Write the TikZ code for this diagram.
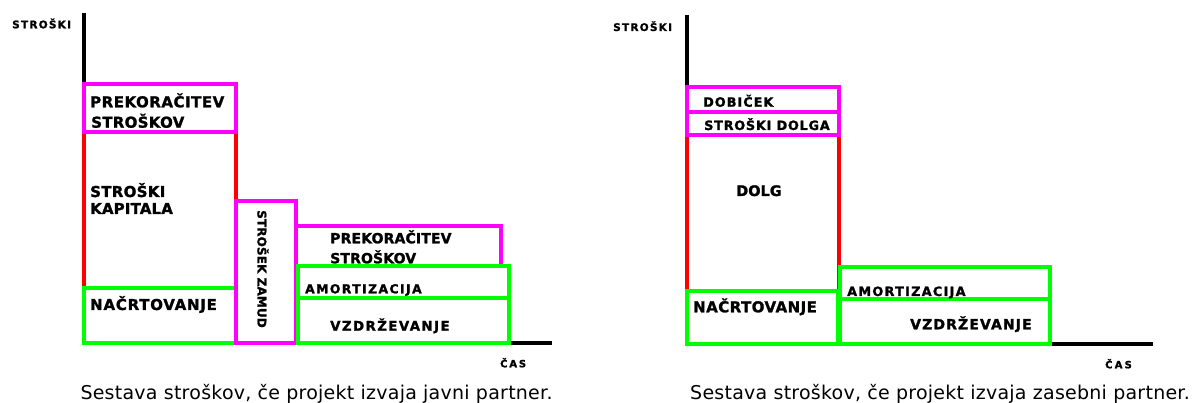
\documentclass[tikz,border=0pt]{standalone}
\usepackage{fontspec}
\setmainfont{DejaVu Sans}
\definecolor{cmag}{RGB}{255,0,255}
\definecolor{cred}{RGB}{255,0,0}
\definecolor{cgreen}{RGB}{0,255,0}
\tikzset{
  bar/.style={line width=4pt, line join=miter},
  axisline/.style={line width=3.5pt, black},
  lbl/.style 2 args={font=\bfseries\fontsize{#1pt}{#1pt}\selectfont\addfontfeatures{LetterSpace=#2,FakeBold=1.5},
    anchor=base west, inner sep=0pt},
  caption/.style={font=\fontsize{19pt}{19pt}\selectfont\addfontfeatures{LetterSpace=1.3},
    anchor=base, inner sep=0pt},
}
\begin{document}
\begin{tikzpicture}[x=1pt,y=-1pt]
\useasboundingbox (0,0) rectangle (1195,403);

% ---------- public partner ----------
\draw[axisline] (84,13) -- (84,343) -- (552,343);
\draw[bar, cred] (84,132) rectangle (236,288);
\draw[bar, cmag] (84,84) rectangle (236,132);
\draw[bar, cgreen] (84,288) rectangle (236,343);
\draw[bar, cmag] (236,201) rectangle (296,343);
\draw[bar, cmag] (296,226) rectangle (501,266);
\draw[bar, cgreen] (298,266) rectangle (509,343);
\draw[bar, cgreen] (298,298) -- (509,298);

\node[lbl={10.5}{12}] (ylA) at (12,28.3) {STROŠKI};
\node[lbl={15}{3.5}] (prekA1) at (90,107.3) {PREKORAČITEV};
\node[lbl={15}{2}] (prekA2) at (91,127.7) {STROŠKOV};
\node[lbl={15}{2}] (kapA1) at (90,197) {STROŠKI};
\node[lbl={15}{1}] (kapA2) at (90,214) {KAPITALA};
\node[lbl={15}{5}] (nacA) at (90,310) {NAČRTOVANJE};
\node[font=\bfseries\fontsize{12pt}{12pt}\selectfont\addfontfeatures{LetterSpace=1,FakeBold=1.5},
      rotate=-90, inner sep=0pt] (zam) at (263,269) {STROŠEK ZAMUD};
\node[lbl={14}{1}] (prekB1) at (330,243.3) {PREKORAČITEV};
\node[lbl={14}{1}] (prekB2) at (330,263.3) {STROŠKOV};
\node[lbl={12.3}{12}] (amA) at (305,293.3) {AMORTIZACIJA};
\node[lbl={13.3}{11}] (vzA) at (330,330.7) {VZDRŽEVANJE};
\node[lbl={10}{18}] (xlA) at (500,367.3) {ČAS};
\node[caption] (capA) at (316.5,400) {Sestava stroškov, če projekt izvaja javni partner.};

% ---------- private partner ----------
\draw[axisline] (687,15) -- (687,344) -- (1153,344);
\draw[bar, cred] (687,135) rectangle (839,291);
\draw[bar, cmag] (687,87) rectangle (839,135);
\draw[bar, cmag] (687,112) -- (839,112);
\draw[bar, cgreen] (687,291) rectangle (838,344);
\draw[bar, cgreen] (840,267) rectangle (1050,344);
\draw[bar, cgreen] (840,299) -- (1050,299);

\node[lbl={10.5}{12}] (ylB) at (613,31) {STROŠKI};
\node[lbl={12.8}{8}] (dob) at (703,106.7) {DOBIČEK};
\node[lbl={12.8}{6}] (sdol) at (704,130) {STROŠKI DOLGA};
\node[lbl={14.5}{0}] (dolg) at (736,196) {DOLG};
\node[lbl={15}{3}] (nacB) at (693,312.3) {NAČRTOVANJE};
\node[lbl={12.8}{10}] (amB) at (847,296) {AMORTIZACIJA};
\node[lbl={14}{8}] (vzB) at (910,329.3) {VZDRŽEVANJE};
\node[lbl={10}{22}] (xlB) at (1105,368.3) {ČAS};
\node[caption] (capB) at (940,400) {Sestava stroškov, če projekt izvaja zasebni partner.};
\end{tikzpicture}
\end{document}
